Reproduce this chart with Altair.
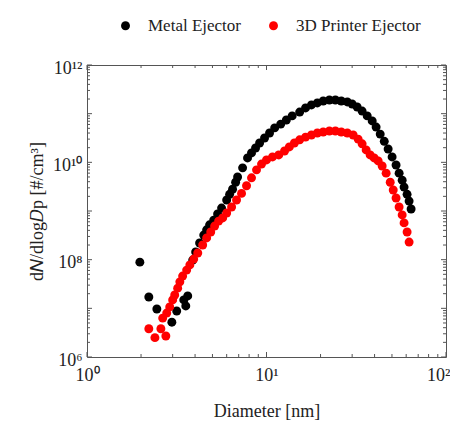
import altair as alt
import pandas as pd

# ---- data ----
metal_d = [1.97, 2.21, 2.45, 2.97, 3.16, 3.46, 3.64, 3.55, 3.88, 4.03, 4.24, 4.47, 4.64, 4.82,
           5.08, 5.34, 5.62, 6.0, 6.23, 6.47, 6.73, 6.9, 7.36, 7.84, 8.25, 8.69, 9.15, 9.75,
           10.4, 11.1, 12.0, 12.9, 13.9, 15.3, 16.5, 17.8, 19.2, 20.7, 22.4, 24.2, 26.1, 28.2,
           30.0, 32.0, 34.1, 36.4, 38.8, 40.8, 43.0, 45.3, 47.6, 50.1, 52.7, 54.8, 57.0, 58.4,
           60.7, 62.3, 63.9]
metal_n = [8.9e7, 1.71e7, 9.7e6, 5.2e6, 8.8e6, 1.49e7, 1.8e7, 1.12e7, 9.8e7, 1.44e8, 2.2e8,
           3.2e8, 4.1e8, 5.2e8, 6.5e8, 8.7e8, 1.15e9, 1.68e9, 2.2e9, 2.8e9, 3.9e9, 5.0e9, 7.7e9,
           1.23e10, 1.56e10, 1.97e10, 2.5e10, 3.16e10, 4.0e10, 5.1e10, 6.1e10, 7.4e10, 9.0e10,
           1.08e11, 1.31e11, 1.51e11, 1.66e11, 1.82e11, 1.91e11, 1.91e11, 1.82e11, 1.74e11,
           1.58e11, 1.37e11, 1.13e11, 9.0e10, 7.1e10, 5.3e10, 3.8e10, 2.7e10, 1.88e10, 1.29e10,
           8.8e9, 6.0e9, 4.3e9, 3.1e9, 2.2e9, 1.6e9, 1.1e9]

printer_d = [2.21, 2.39, 2.58, 2.75, 2.64, 2.78, 2.89, 3.0, 3.08, 3.2, 3.29, 3.41, 3.59, 3.74,
             3.93, 4.14, 4.41, 4.64, 4.89, 5.14, 5.41, 5.70, 6.0, 6.39, 6.81, 7.26, 7.74, 8.25,
             8.80, 9.38, 10.0, 10.8, 11.7, 12.6, 13.4, 14.3, 15.3, 16.5, 17.8, 19.2, 20.7, 22.4,
             24.2, 26.1, 28.2, 30.4, 32.4, 34.1, 35.9, 37.8, 39.8, 41.9, 44.1, 46.4, 48.9, 50.8,
             52.7, 54.8, 57.0, 58.4, 60.7, 62.3]
printer_n = [3.8e6, 2.5e6, 3.8e6, 2.7e6, 6.3e6, 8.0e6, 1.07e7, 1.49e7, 1.88e7, 2.6e7, 3.5e7,
             4.6e7, 6.1e7, 7.8e7, 1.03e8, 1.37e8, 2.0e8, 2.8e8, 3.7e8, 4.9e8, 6.2e8, 7.2e8, 9.1e8,
             1.21e9, 1.68e9, 2.3e9, 3.3e9, 4.8e9, 7.0e9, 9.2e9, 1.12e10, 1.29e10, 1.42e10,
             1.71e10, 2.07e10, 2.5e10, 2.9e10, 3.3e10, 3.65e10, 4.0e10, 4.2e10, 4.4e10, 4.4e10,
             4.2e10, 4.0e10, 3.65e10, 3.0e10, 2.4e10, 1.8e10, 1.42e10, 1.23e10, 1.07e10, 8.4e9,
             6.0e9, 3.9e9, 2.7e9, 1.85e9, 1.21e9, 8.3e8, 5.7e8, 3.7e8, 2.3e8]

series_names = ["Metal Ejector", "3D Printer Ejector"]
series_colors = ["#000000", "#ff0000"]

x_major = [1, 10, 100]
x_minor = [2, 3, 4, 5, 6, 7, 8, 9, 20, 30, 40, 50, 60, 70, 80, 90]
y_major = [1e6, 1e7, 1e8, 1e9, 1e10, 1e11, 1e12]
y_minor = [k * 10 ** e for e in range(6, 12) for k in range(2, 10)]
x_labels = [1, 10, 100]
y_labels = [1e6, 1e8, 1e10, 1e12]

W, H = 359, 292
FONT = "Times New Roman, Liberation Serif, serif"
FRAME = "#555555"
TXT = "#222222"

df = pd.concat([
    pd.DataFrame({"d": metal_d, "n": metal_n, "s": series_names[0]}),
    pd.DataFrame({"d": printer_d, "n": printer_n, "s": series_names[1]}),
], ignore_index=True)

xs = alt.Scale(type="log", domain=[1, 100], nice=False)
ys = alt.Scale(type="log", domain=[1e6, 1e12], nice=False)

xax = alt.Axis(values=x_labels, title="Diameter [nm]", ticks=False, domain=False, grid=False,
               labelExpr="datum.value == 1 ? '10⁰' : datum.value == 10 ? '10¹' : '10²'",
               labelFlush=False, labelOverlap=False,
               labelAlign={"condition": {"test": "datum.value == 100", "value": "right"}, "value": "center"},
               labelOffset={"condition": {"test": "datum.value == 100", "value": 4}, "value": 0},
               labelFontSize=18, labelPadding=9, labelFont=FONT, labelColor=TXT,
               titleFont=FONT, titleFontSize=18, titleFontWeight="normal", titleColor=TXT,
               titleX=W / 2, titleY=54, titleBaseline="middle", titleAlign="center")
yax = alt.Axis(values=y_labels, title="d𝑁/dlog𝐷p [#/cm³]", ticks=False, domain=False, grid=False,
               labelExpr="datum.value == 1000000 ? '10⁶' : datum.value == 100000000 ? '10⁸' : datum.value == 10000000000 ? '10¹⁰' : '10¹²'",
               labelFlush=False, labelOverlap=False,
               labelFontSize=18, labelPadding=5, labelFont=FONT, labelColor=TXT,
               labelBaseline="middle", labelOffset=3,
               titleFont=FONT, titleFontSize=18, titleFontWeight="normal", titleColor=TXT,
               titleX=-50, titleY=H / 2, titleAngle=270, titleBaseline="middle", titleAlign="center")

pts = alt.Chart(df).mark_circle(size=80, opacity=1).encode(
    x=alt.X("d:Q", scale=xs, axis=xax),
    y=alt.Y("n:Q", scale=ys, axis=yax),
    color=alt.Color("s:N", scale=alt.Scale(domain=series_names, range=series_colors),
                    legend=alt.Legend(title=None, orient="none", legendX=30, legendY=-48,
                                      direction="horizontal", columns=2, symbolType="circle",
                                      symbolSize=80, symbolStrokeWidth=0, labelFont=FONT,
                                      labelFontSize=17, labelColor=TXT, labelOffset=14,
                                      columnPadding=24, padding=0)),
    order=alt.Order("o:Q"),
).transform_calculate(o="datum.s == 'Metal Ejector' ? 0 : 1")


def xticks(vals, length):
    d = pd.DataFrame({"v": vals})
    bottom = alt.Chart(d).mark_rule(color=FRAME, strokeWidth=1).encode(
        x=alt.X("v:Q", scale=xs, axis=xax), y=alt.value(H), y2=alt.value(H - length))
    top = alt.Chart(d).mark_rule(color=FRAME, strokeWidth=1).encode(
        x=alt.X("v:Q", scale=xs, axis=xax), y=alt.value(0), y2=alt.value(length))
    return [bottom, top]


def yticks(vals, length):
    d = pd.DataFrame({"v": vals})
    left = alt.Chart(d).mark_rule(color=FRAME, strokeWidth=1).encode(
        y=alt.Y("v:Q", scale=ys, axis=yax), x=alt.value(0), x2=alt.value(length))
    right = alt.Chart(d).mark_rule(color=FRAME, strokeWidth=1).encode(
        y=alt.Y("v:Q", scale=ys, axis=yax), x=alt.value(W), x2=alt.value(W - length))
    return [left, right]


layers = xticks(x_major, 5) + xticks(x_minor, 3) + yticks(y_major, 5) + yticks(y_minor, 3) + [pts]

chart = alt.layer(*layers).properties(
    width=W, height=H,
    autosize=alt.AutoSizeParams(type="none"),
    padding={"left": 79, "top": 57, "right": 4, "bottom": 66},
    background="white",
).configure_view(stroke=FRAME, strokeWidth=1)

chart.save("out.html", embed_options={"renderer": "svg", "actions": False})
